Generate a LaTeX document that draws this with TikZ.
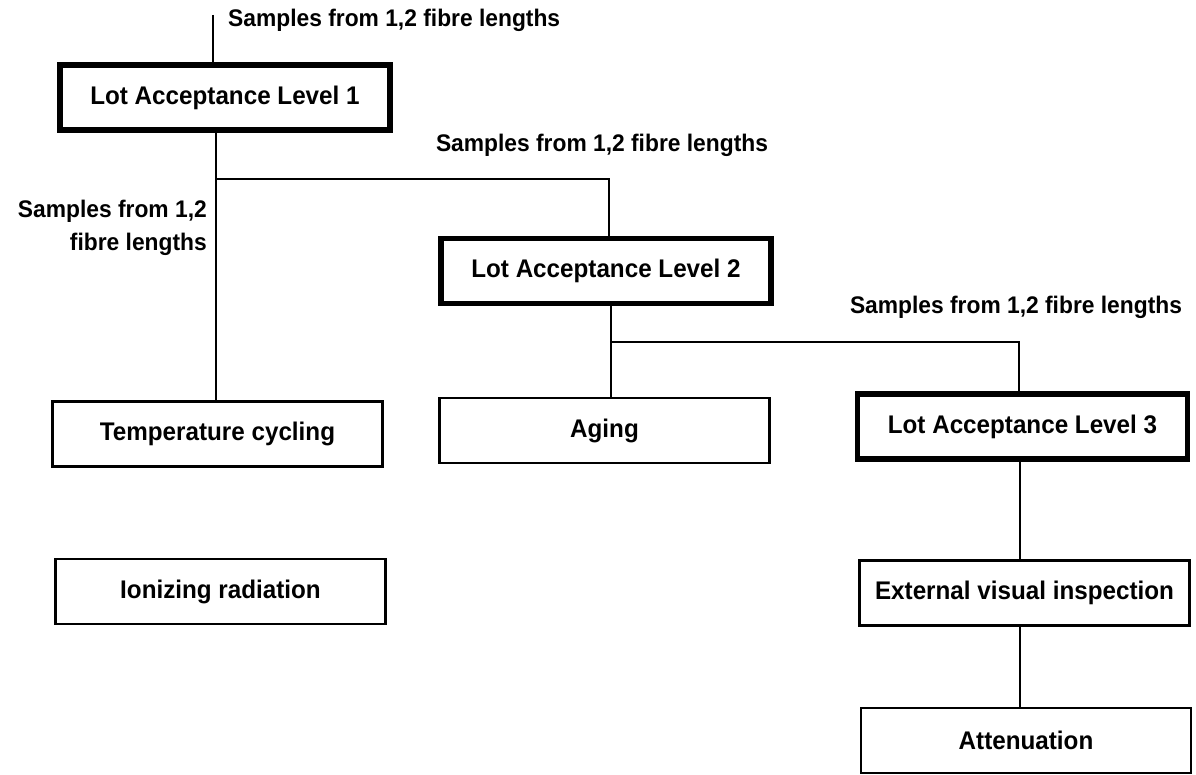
\documentclass[tikz,border=0pt]{standalone}
\usepackage{fontspec}
\setmainfont{Liberation Sans}
\newfontfamily\heavyface{Liberation Sans Bold}[FakeStretch=0.95]
\begin{document}
\begin{tikzpicture}[x=1pt,y=-1pt,
  lotbox/.style={draw,line width=5.5pt,minimum width=330pt,minimum height=65pt,inner sep=0pt,
    font=\heavyface\fontsize{25.5}{30}\selectfont},
  testbox/.style={draw,line width=2.2pt,minimum width=330pt,minimum height=65pt,inner sep=0pt,
    font=\heavyface\fontsize{25.5}{30}\selectfont},
  samplelabel/.style={inner sep=0pt,font=\heavyface\fontsize{24}{33}\selectfont},
  link/.style={line width=2pt}]
\useasboundingbox (0,0) rectangle (1196,775);

% lot acceptance levels
\node[lotbox] (L1) at (225,97.5) {Lot Acceptance Level 1};
\node[lotbox] (L2) at (606,271) {Lot Acceptance Level 2};
\node[lotbox] (L3) at (1022.5,426.5) {Lot Acceptance Level 3};

% tests
\node[testbox] (T)  at (217.5,434) {Temperature cycling};
\node[testbox] (I)  at (220.5,591.5) {Ionizing radiation};
\node[testbox] (A)  at (604.5,430.5) {Aging};
\node[testbox] (E)  at (1024.5,593) {External visual inspection};
\node[testbox] (At) at (1026,740.5) {Attenuation};

% sample labels
\node[samplelabel,anchor=west] (s1) at (228,20) {Samples from 1,2 fibre lengths};
\node[samplelabel] (s2) at (602,145) {Samples from 1,2 fibre lengths};
\node[samplelabel] (s3) at (1016,307) {Samples from 1,2 fibre lengths};
\node[samplelabel,anchor=east,align=right] (s4) at (207,228) {Samples from 1,2\\fibre lengths};

% connectors
\coordinate (in1) at (213,15);
\coordinate (b1) at (216,179);
\coordinate (b1r) at (609,179);
\coordinate (b2) at (611,342);
\coordinate (b2r) at (1019,342);
\coordinate (c3) at (1020,0);

\draw[link] (in1) -- (in1 |- L1.north);
\draw[link] (L1.south -| b1) -- (T.north -| b1);
\draw[link] (b1) -- (b1r) -- (L2.north -| b1r);
\draw[link] (L2.south -| b2) -- (A.north -| b2);
\draw[link] (b2) -- (b2r) -- (L3.north -| b2r);
\draw[link] (L3.south -| c3) -- (E.north -| c3);
\draw[link] (E.south -| c3) -- (At.north -| c3);
\end{tikzpicture}
\end{document}
